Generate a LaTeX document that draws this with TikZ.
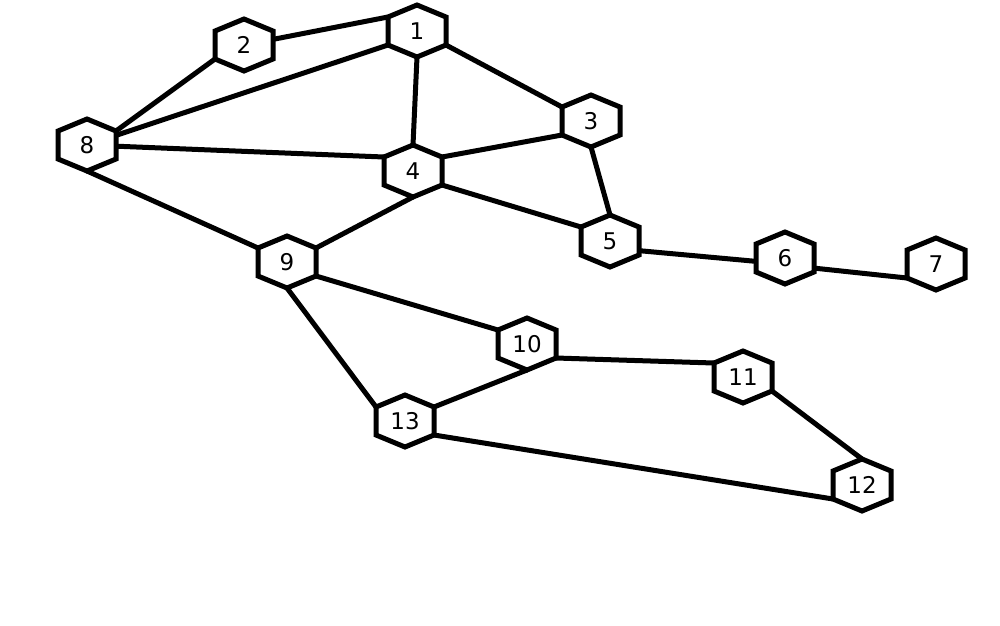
\documentclass[tikz,border=0pt]{standalone}
\usepackage{fontspec}
\setmainfont{DejaVu Sans}
\usetikzlibrary{backgrounds}
\pgfdeclarelayer{hexlayer}
\pgfsetlayers{background,hexlayer,main}
\tikzset{
  vert/.style={inner sep=0pt, font=\fontsize{23}{27}\selectfont, text=black},
  edge/.style={line width=5pt, draw=black},
  hexline/.style={line width=5pt, draw=black, fill=white, line join=miter}
}
\begin{document}
\begin{tikzpicture}[x=1pt,y=-1pt]
\useasboundingbox (0,0) rectangle (1000,625);
\node[vert] (n1) at (417,31) {1};
\node[vert] (n2) at (244,45) {2};
\node[vert] (n3) at (591,121) {3};
\node[vert] (n4) at (413,171) {4};
\node[vert] (n5) at (610,241) {5};
\node[vert] (n6) at (785,258) {6};
\node[vert] (n7) at (936,264) {7};
\node[vert] (n8) at (87,145) {8};
\node[vert] (n9) at (287,262) {9};
\node[vert] (n10) at (527,344) {10};
\node[vert] (n11) at (743,377) {11};
\node[vert] (n12) at (862,485) {12};
\node[vert] (n13) at (405,421) {13};
% canvas y points up: positive yshift moves up on the page
\foreach \n in {n1,n2,n3,n4,n5,n6,n7,n8,n9,n10,n11,n12,n13}{
  \coordinate (\n-t) at ([yshift=26pt]\n.center);
  \coordinate (\n-b) at ([yshift=-26pt]\n.center);
  \coordinate (\n-tr) at ([xshift=29pt,yshift=14pt]\n.center);
  \coordinate (\n-br) at ([xshift=29pt,yshift=-14pt]\n.center);
  \coordinate (\n-tl) at ([xshift=-29pt,yshift=14pt]\n.center);
  \coordinate (\n-bl) at ([xshift=-29pt,yshift=-14pt]\n.center);
}
\begin{pgfonlayer}{hexlayer}
\foreach \n in {n1,n2,n3,n4,n5,n6,n7,n8,n9,n10,n11,n12,n13}
  \draw[hexline] (\n-t) -- (\n-tr) -- (\n-br) -- (\n-b) -- (\n-bl) -- (\n-tl) -- cycle;
\end{pgfonlayer}
\begin{pgfonlayer}{background}
\fill[white] (0,0) rectangle (1000,625);
\draw[edge] (n2.center) -- (n1-tl);
\draw[edge] (n8-tr) -- (n2-bl);
\draw[edge] (n8.center) -- (n1-bl);
\draw[edge] (n1-b) -- (n4-t);
\draw[edge] (n1-br) -- (n3-tl);
\draw[edge] (n8.center) -- (n4-tl);
\draw[edge] (n8-b) -- (n9-tl);
\draw[edge] (n4-tr) -- (n3-bl);
\draw[edge] (n4-br) -- (n5-tl);
\draw[edge] (n4-b) -- (n9-tr);
\draw[edge] (n3-b) -- (n5-t);
\draw[edge] ([yshift=-7pt]n5.center) -- ([yshift=-6pt]n6.center);
\draw[edge] ([yshift=-7pt]n6.center) -- (n7-bl);
\draw[edge] (n9-br) -- (n10-tl);
\draw[edge] (n9-b) -- (n13-tl);
\draw[edge] (n10-b) -- (n13-tr);
\draw[edge] (n10-br) -- (n11-tl);
\draw[edge] (n11-br) -- (n12-t);
\draw[edge] (n13-br) -- (n12-bl);
\end{pgfonlayer}
\end{tikzpicture}
\end{document}
